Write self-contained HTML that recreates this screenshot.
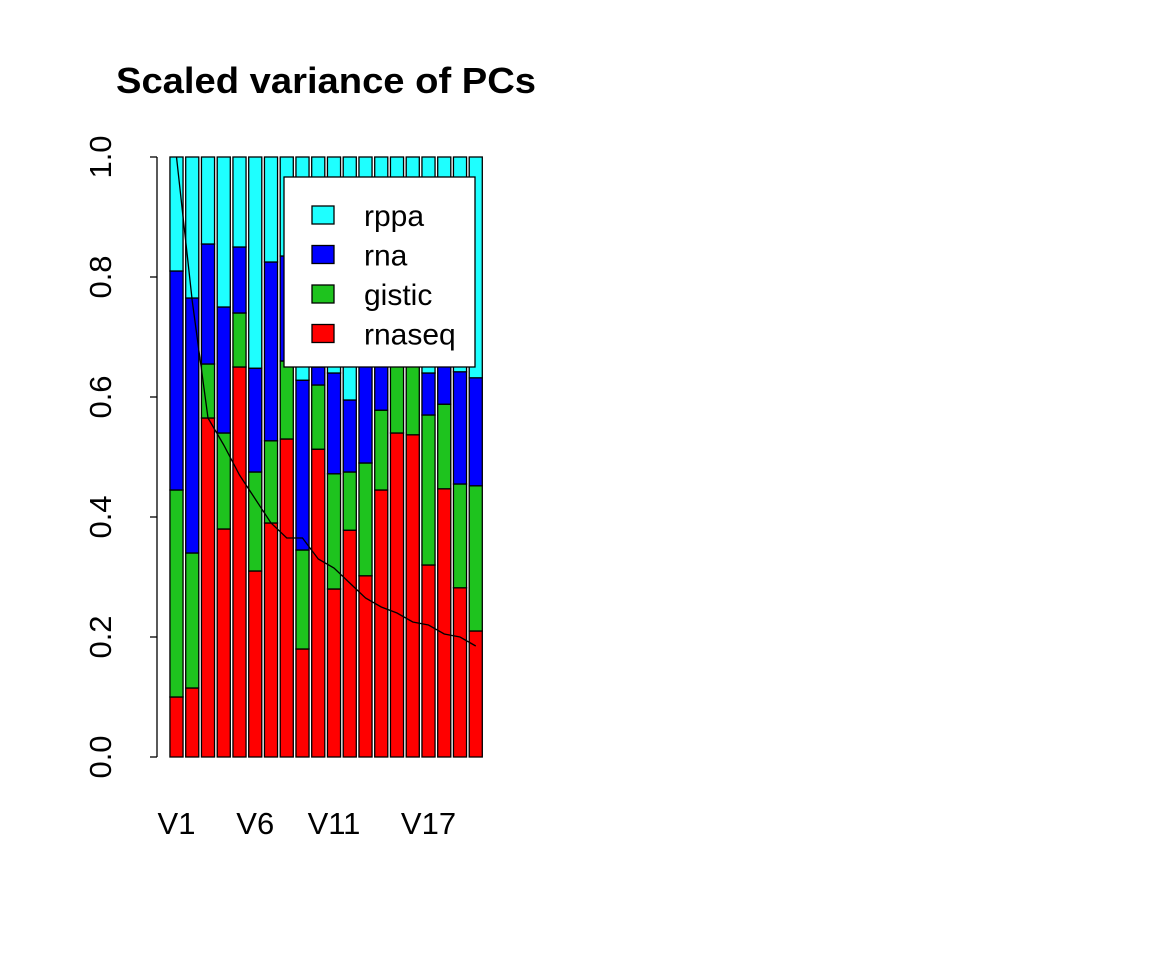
<!DOCTYPE html>
<html><head><meta charset="utf-8"><style>body{margin:0;background:#fff}svg{display:block;font-family:"Liberation Sans",Arial,sans-serif}</style></head>
<body>
<svg width="1152" height="960">
<text x="116" y="93" font-size="36" font-weight="bold" textLength="420" lengthAdjust="spacingAndGlyphs">Scaled variance of PCs</text>
<g id="bars"></g>
<g id="axes"></g>
<g id="legend"></g>
</svg>
<script>
const labels=["V1","V2","V3","V4","V5","V6","V7","V8","V9","V10","V11","V12","V13","V14","V15","V16","V17","V18","V19","V20"];
const shownLabels=["V1","V6","V11","V17"];
const rnaseq=[0.10,0.115,0.565,0.38,0.65,0.31,0.39,0.53,0.18,0.513,0.28,0.378,0.302,0.445,0.54,0.537,0.32,0.447,0.282,0.21];
const gistic=[0.345,0.225,0.09,0.16,0.09,0.165,0.137,0.13,0.165,0.107,0.192,0.097,0.188,0.133,0.12,0.123,0.25,0.141,0.173,0.242];
const rna=[0.365,0.425,0.20,0.21,0.11,0.173,0.298,0.175,0.283,0.03,0.168,0.12,0.17,0.082,0.0,0.0,0.07,0.072,0.187,0.18];
const curve=[1.0,0.76,0.565,0.52,0.47,0.43,0.39,0.365,0.365,0.33,0.315,0.29,0.265,0.25,0.24,0.225,0.22,0.205,0.2,0.185];
const yTicks=[0,0.2,0.4,0.6,0.8,1.0];
const NS="http://www.w3.org/2000/svg";
const y=v=>757-v*600;
const xc=i=>176.5+i*15.75;
const bw=13.1;
function mk(t,a,p){const e=document.createElementNS(NS,t);for(const k in a)e.setAttribute(k,a[k]);p.appendChild(e);return e;}
const gb=document.getElementById('bars');
labels.forEach((l,i)=>{
  let b=0;
  const segs=[[rnaseq[i],'#ff0000','rnaseq'],[gistic[i],'#1ec31e','gistic'],[rna[i],'#0000ff','rna'],[1-rnaseq[i]-gistic[i]-rna[i],'#1effff','rppa']];
  segs.forEach(s=>{
    const r=mk('rect',{x:xc(i)-bw/2,y:y(b+s[0]),width:bw,height:s[0]*600,fill:s[1],stroke:'#000','stroke-width':1.3},gb);
    
    
    b+=s[0];
  });
});
const pl=mk('polyline',{points:curve.map((v,i)=>xc(i)+','+y(v)).join(' '),fill:'none',stroke:'#000','stroke-width':1.3},gb);


const ga=document.getElementById('axes');
mk('line',{x1:157,y1:y(0),x2:157,y2:y(1),stroke:'#000','stroke-width':1.3},ga);
yTicks.forEach(t=>{
  mk('line',{x1:150,y1:y(t),x2:157,y2:y(t),stroke:'#000','stroke-width':1.3},ga);
  const tx=mk('text',{x:0,y:0,'font-size':31,'text-anchor':'middle',transform:`translate(111,${y(t)}) rotate(-90)`},ga);
  tx.textContent=t.toFixed(1);
  
  
});
labels.forEach((l,i)=>{
  if(!shownLabels.includes(l))return;
  const tx=mk('text',{x:xc(i),y:834,'font-size':31,'text-anchor':'middle'},ga);
  tx.textContent=l;
  
  
});
const gl=document.getElementById('legend');
mk('rect',{x:284,y:177,width:191,height:190,fill:'#fff',stroke:'#000','stroke-width':1.3},gl);
[['rppa','#1effff'],['rna','#0000ff'],['gistic','#1ec31e'],['rnaseq','#ff0000']].forEach((e,i)=>{
  const cy=215+i*39.5;
  mk('rect',{x:312,y:cy-9,width:22,height:18,fill:e[1],stroke:'#000','stroke-width':1.3},gl);
  const tx=mk('text',{x:364,y:cy+11,'font-size':30},gl);
  tx.textContent=e[0];
  
  
});
</script>
</body></html>
